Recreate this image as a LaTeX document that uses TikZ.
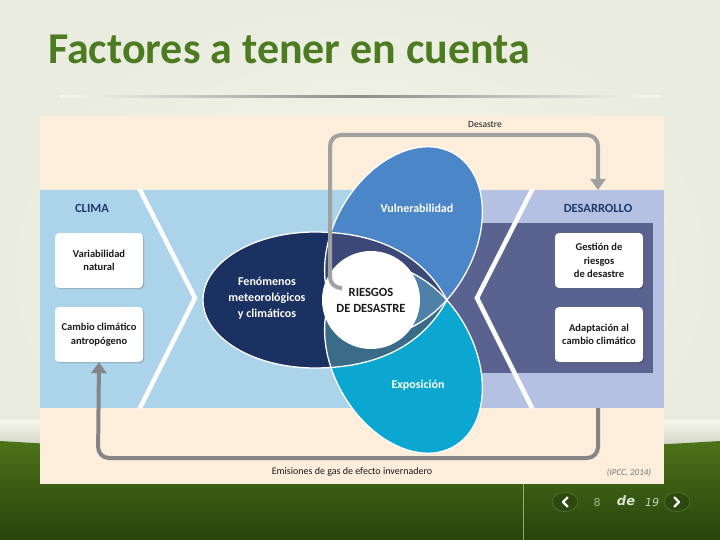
\documentclass[tikz,border=0pt]{standalone}
\usepackage{fontspec}
\setmainfont{Carlito}
\newfontfamily\navfont{DejaVu Sans}
\usetikzlibrary{arrows.meta,shadows,shapes.geometric}
\definecolor{bgc}{HTML}{F7F8EC}
\definecolor{bgo}{HTML}{EAECDF}
\definecolor{shd}{HTML}{CDD0C1}
\definecolor{grnT}{HTML}{4C7219}
\definecolor{grnB}{HTML}{27440B}
\definecolor{titlec}{HTML}{4D7B22}
\definecolor{panelc}{HTML}{FDEEDC}
\definecolor{lblue}{HTML}{ABD3EA}
\definecolor{lav}{HTML}{B4C1E3}
\definecolor{slate}{HTML}{5A6390}
\definecolor{fenc}{HTML}{1B3162}
\definecolor{vulc}{HTML}{4B87C8}
\definecolor{expc}{HTML}{0BA7D0}
\definecolor{fvc}{HTML}{3C4878}
\definecolor{fec}{HTML}{3A6C8A}
\definecolor{vec}{HTML}{4E80A8}
\definecolor{navy}{HTML}{1F3A6A}
\definecolor{looptop}{HTML}{A0A0A0}
\definecolor{loopbot}{HTML}{858585}
\definecolor{txtd}{HTML}{1A1A1A}
\definecolor{btnf}{HTML}{2C4A0E}
\definecolor{btnd}{HTML}{56753A}
\begin{document}
\begin{tikzpicture}[x=1pt,y=-1pt,
  whitebox/.style={draw=none, fill=white, rounded corners=4pt, minimum width=88pt, minimum height=55pt,
    inner sep=2pt, align=center, text=txtd, font=\fontsize{10.5}{13.5}\selectfont\bfseries,
    drop shadow={shadow xshift=1pt, shadow yshift=-1pt, opacity=0.2, fill=black}},
  bandlabel/.style={text=navy, font=\fontsize{12.5}{14}\selectfont\bfseries},
  petaltext/.style={text=white, align=center, font=\fontsize{12}{16}\selectfont\bfseries},
  outl/.style={draw=white, line width=1.3pt},
  chev/.style={draw=white, line width=4.5pt, line join=miter},
  loopline/.style={line width=4pt, rounded corners=11pt, -{Triangle[width=15pt,length=11pt]}},
  vel/.style={rotate around={60:(403.5,241)}},
  eel/.style={rotate around={-60:(403.5,359)}},
  smalltxt/.style={text=txtd, font=\fontsize{10}{12}\selectfont},
  btn/.style={ellipse, minimum width=26pt, minimum height=19pt, fill=btnf, draw=btnd, line width=0.6pt}
]
\useasboundingbox (0,0) rectangle (720,540);
% background
\shade[inner color=bgc, outer color=bgo] (0,0) rectangle (720,540);
\shade[top color=bgc, bottom color=shd] (0,420) rectangle (720,448);
\shade[top color=grnT, bottom color=grnB] (0,441) .. controls (240,456) and (480,456) .. (720,441) -- (720,540) -- (0,540) -- cycle;
\draw[color=grnT!60!white, line width=0.6pt] (523.5,484) -- (523.5,540);
% title
\node[anchor=base west, text=titlec, font=\fontsize{44}{50}\selectfont\bfseries, inner sep=0] (title) at (48,64) {Factores a tener en cuenta};
\shade[left color=bgc, right color=bgc, middle color=black!45] (60,95.5) rectangle (660,97.5);
% panel
\fill[panelc] (40,116) rectangle (664,484);
\fill[lblue] (40,190) rectangle (477,408);
\fill[lav] (477,190) rectangle (664,408);
\fill[slate] (420,223) rectangle (653,373);
\begin{scope}
  \clip (40,190) rectangle (664,408);
  \draw[chev] (135,180) -- (195,298) -- (135,418);
  \draw[chev] (537,180) -- (477,298) -- (537,418);
\end{scope}
% labels and boxes
\node[bandlabel] (clima) at (92,208) {CLIMA};
\node[bandlabel] (desa) at (598,208) {DESARROLLO};
\node[whitebox] (vn) at (99,260.5) {Variabilidad\\natural};
\node[whitebox] (cc) at (99,334.5) {Cambio climático\\antropógeno};
\node[whitebox] (gr) at (599,260.5) {Gestión de\\riesgos\\de desastre};
\node[whitebox] (ad) at (599,334.5) {Adaptación al\\cambio climático};
% petals
\fill[fenc] (447,300) .. controls (420,250) and (370,232) .. (315,232) .. controls (253,232) and (203,262.5) .. (203,300) .. controls (203,337.5) and (253,368) .. (315,368) .. controls (370,368) and (420,350) .. (447,300) -- cycle;
\fill[vulc, vel] (403.5,241) ellipse [x radius=101, y radius=70];
\fill[expc, eel] (403.5,359) ellipse [x radius=101, y radius=70];
\begin{scope}
  \clip (447,300) .. controls (420,250) and (370,232) .. (315,232) .. controls (253,232) and (203,262.5) .. (203,300) .. controls (203,337.5) and (253,368) .. (315,368) .. controls (370,368) and (420,350) .. (447,300) -- cycle;
  \fill[fvc, vel] (403.5,241) ellipse [x radius=101, y radius=70];
  \fill[fec, eel] (403.5,359) ellipse [x radius=101, y radius=70];
  \begin{scope}
    \clip[vel] (403.5,241) ellipse [x radius=101, y radius=70];
    \fill[vec, eel] (403.5,359) ellipse [x radius=101, y radius=70];
  \end{scope}
\end{scope}
\begin{scope}
  \clip[vel] (403.5,241) ellipse [x radius=101, y radius=70];
  \fill[vec!85!expc, eel] (403.5,359) ellipse [x radius=101, y radius=70];
\end{scope}
\begin{scope}
  \clip (447,300) .. controls (420,250) and (370,232) .. (315,232) .. controls (253,232) and (203,262.5) .. (203,300) .. controls (203,337.5) and (253,368) .. (315,368) .. controls (370,368) and (420,350) .. (447,300) -- cycle;
  \clip[vel] (403.5,241) ellipse [x radius=101, y radius=70];
  \fill[vec, eel] (403.5,359) ellipse [x radius=101, y radius=70];
\end{scope}
\draw[outl] (447,300) .. controls (420,250) and (370,232) .. (315,232) .. controls (253,232) and (203,262.5) .. (203,300) .. controls (203,337.5) and (253,368) .. (315,368) .. controls (370,368) and (420,350) .. (447,300) -- cycle;
\draw[outl, vel] (403.5,241) ellipse [x radius=101, y radius=70];
\draw[outl, eel] (403.5,359) ellipse [x radius=101, y radius=70];
\node[circle, fill=white, minimum size=98pt, inner sep=0pt] (risk) at (371,300) {};
\node[petaltext] (fen) at (267,298) {Fenómenos\\meteorológicos\\y climáticos};
\node[petaltext] (vul) at (417,208) {Vulnerabilidad};
\node[petaltext] (exp) at (418,385) {Exposición};
% loops
\coordinate (s1) at (342,288);
\coordinate (t1) at (598,190);
\coordinate (s2) at (598,408);
\draw[loopline, color=looptop] (s1) -- (330,288) -- (330,135) -- (598,135) -- (t1);
\draw[loopline, color=loopbot] (s2) -- (598,458) -- (98,458) -- (cc.south);
\node[text=txtd, align=center, font=\fontsize{12.5}{16}\selectfont\bfseries] (risktxt) at (371,300) {RIESGOS\\DE DESASTRE};
\node[smalltxt, font=\fontsize{9.5}{11}\selectfont] (desastre) at (485,124) {Desastre};
\node[smalltxt] (emis) at (352,472) {Emisiones de gas de efecto invernadero};
\node[text=black!55, font=\fontsize{9}{11}\selectfont\itshape] (ipcc) at (629,473) {(IPCC, 2014)};
% navigation
\node[btn] (prev) at (565,502) {};
\node[btn] (next) at (677,502) {};
\draw[white, line width=2.4pt, line cap=round, line join=round] (567.5,497.5) -- (563,502) -- (567.5,506.5);
\draw[white, line width=2.4pt, line cap=round, line join=round] (674.5,497.5) -- (679,502) -- (674.5,506.5);
\node[text=grnT!50!white, font=\navfont\fontsize{11}{12}\selectfont] (pg) at (597,502) {8};
\node[text=white!80!grnT, font=\navfont\fontsize{13}{14}\selectfont\bfseries\itshape] (de) at (626,501) {de};
\node[text=white!70!grnT, font=\navfont\fontsize{11}{12}\selectfont\itshape] (tot) at (652,502) {19};
\end{tikzpicture}
\end{document}
